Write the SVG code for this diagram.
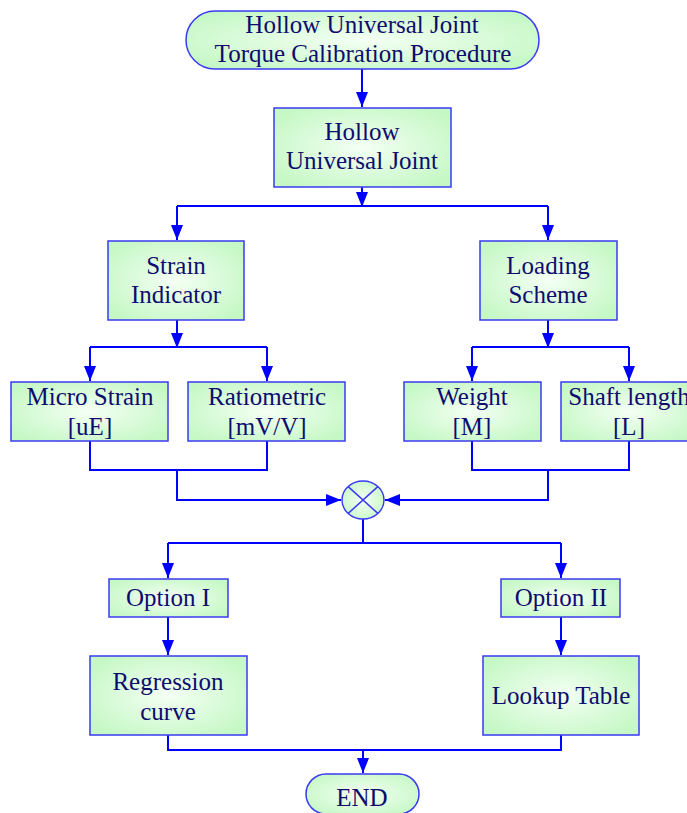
<svg xmlns="http://www.w3.org/2000/svg" width="687" height="813" viewBox="0 0 687 813">
<defs>
<radialGradient id="g" cx="50%" cy="50%" r="60%">
<stop offset="0" stop-color="#f4fff4"/>
<stop offset="1" stop-color="#c6f8c6"/>
</radialGradient>
<marker id="ah" markerUnits="userSpaceOnUse" markerWidth="16" markerHeight="12" refX="15" refY="6" orient="auto">
<path d="M0,0 L15,6 L0,12 Z" fill="#0000ff"/>
</marker>
<style>
.n{fill:url(#g);stroke:#3a3af2;stroke-width:1.5}
.t{font-family:"Liberation Serif","Times New Roman",serif;font-size:25px;fill:#0d0d6e;text-anchor:middle}
.c{fill:none;stroke:#0000ff;stroke-width:2}
.a{marker-end:url(#ah)}
</style>
</defs>
<g id="connectors">
<path class="c a" d="M362,69 V107"/>
<path class="c a" d="M362,187 V207"/>
<path class="c" d="M177,206 H548"/>
<path class="c a" d="M177,206 V240"/>
<path class="c a" d="M548,206 V240"/>
<path class="c a" d="M177,320 V348"/>
<path class="c" d="M90,347 H267"/>
<path class="c a" d="M90,347 V381"/>
<path class="c a" d="M267,347 V381"/>
<path class="c a" d="M548,320 V348"/>
<path class="c" d="M472,347 H629"/>
<path class="c a" d="M472,347 V381"/>
<path class="c a" d="M629,347 V381"/>
<path class="c" d="M90,441 V470 H267 V441"/>
<path class="c a" d="M177,470 V500 H341"/>
<path class="c" d="M472,441 V470 H629 V441"/>
<path class="c a" d="M548,470 V500 H385"/>
<path class="c" d="M363,519 V543"/>
<path class="c" d="M168,543 H561"/>
<path class="c a" d="M168,543 V578"/>
<path class="c a" d="M561,543 V578"/>
<path class="c a" d="M168,616 V655"/>
<path class="c a" d="M561,616 V655"/>
<path class="c" d="M168,735 V750 H561 V735"/>
<path class="c a" d="M363,750 V773"/>
</g>
<g id="start">
<rect class="n" x="186" y="11" width="353" height="58" rx="29"/>
<text class="t" x="362" y="33">Hollow Universal Joint</text>
<text class="t" x="363" y="62">Torque Calibration Procedure</text>
</g>
<g id="joint">
<rect class="n" x="274" y="108" width="177" height="79"/>
<text class="t" x="362" y="140">Hollow</text>
<text class="t" x="362" y="169">Universal Joint</text>
</g>
<g id="strain">
<rect class="n" x="108" y="241" width="136" height="79"/>
<text class="t" x="176" y="274">Strain</text>
<text class="t" x="176" y="303">Indicator</text>
</g>
<g id="loading">
<rect class="n" x="480" y="241" width="137" height="79"/>
<text class="t" x="548" y="274">Loading</text>
<text class="t" x="548" y="303">Scheme</text>
</g>
<g id="micro">
<rect class="n" x="11" y="382" width="157" height="59"/>
<text class="t" x="90" y="405">Micro Strain</text>
<text class="t" x="90" y="435">[uE]</text>
</g>
<g id="ratio">
<rect class="n" x="188" y="382" width="157" height="59"/>
<text class="t" x="267" y="405">Ratiometric</text>
<text class="t" x="267" y="435">[mV/V]</text>
</g>
<g id="weight">
<rect class="n" x="404" y="382" width="137" height="59"/>
<text class="t" x="472" y="405">Weight</text>
<text class="t" x="472" y="435">[M]</text>
</g>
<g id="shaft">
<rect class="n" x="561" y="382" width="137" height="59"/>
<text class="t" x="629" y="405">Shaft length</text>
<text class="t" x="629" y="435">[L]</text>
</g>
<g id="multiply">
<ellipse class="n" cx="363" cy="500" rx="21" ry="19"/>
<path d="M348.2,486.6 L377.8,513.4 M377.8,486.6 L348.2,513.4" stroke="#3a3af2" stroke-width="1.5"/>
</g>
<g id="option1">
<rect class="n" x="109" y="579" width="119" height="38"/>
<text class="t" x="168" y="606">Option I</text>
</g>
<g id="option2">
<rect class="n" x="501" y="579" width="119" height="38"/>
<text class="t" x="561" y="606">Option II</text>
</g>
<g id="regression">
<rect class="n" x="90" y="656" width="157" height="79"/>
<text class="t" x="168" y="690">Regression</text>
<text class="t" x="168" y="720">curve</text>
</g>
<g id="lookup">
<rect class="n" x="483" y="656" width="156" height="79"/>
<text class="t" x="561" y="704">Lookup Table</text>
</g>
<g id="end">
<rect class="n" x="306" y="774" width="113" height="40" rx="20"/>
<text class="t" x="362" y="806">END</text>
</g>
</svg>
